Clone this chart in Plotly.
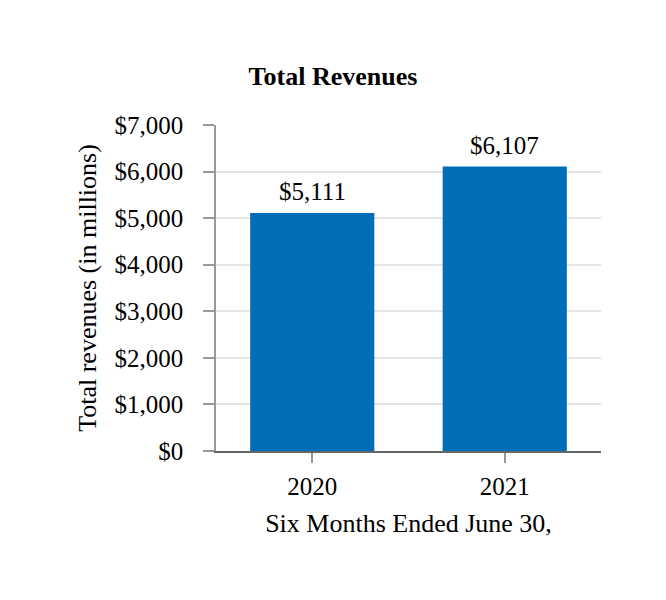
import plotly.graph_objects as go

years = ["2020", "2021"]
revenues = [5111, 6107]
bar_labels = ["$5,111", "$6,107"]
y_ticks = [0, 1000, 2000, 3000, 4000, 5000, 6000, 7000]
y_tick_text = ["$0", "$1,000", "$2,000", "$3,000", "$4,000", "$5,000", "$6,000", "$7,000"]

serif = "Liberation Serif, Times New Roman, serif"

fig = go.Figure(go.Bar(
    x=years,
    y=revenues,
    marker=dict(color="#006EB6", line=dict(width=0)),
    width=0.645,
    hoverinfo="x+y",
))

# value labels above the bars (category index, since "2020" reads as a number)
for i, (val, lab) in enumerate(zip(revenues, bar_labels)):
    fig.add_annotation(x=i, y=val, text=lab, showarrow=False,
                       yanchor="middle", yshift=21,
                       font=dict(family=serif, size=25, color="black"))

fig.update_layout(
    width=666, height=600,
    margin=dict(l=208, r=73, t=117, b=157),
    paper_bgcolor="white", plot_bgcolor="white",
    font=dict(family=serif, color="black"),
    showlegend=False,
    title=dict(text="<b>Total Revenues</b>", x=(333 - 8) / 666, xanchor="center",
               y=1 - 68 / 600, yanchor="middle",
               font=dict(family=serif, size=26, color="black")),
    xaxis=dict(
        type="category",
        showline=True, linecolor="#666666", linewidth=2,
        ticks="outside", ticklen=10, tickcolor="#999999", tickwidth=1.5,
        tickfont=dict(family=serif, size=25),
        ticklabelstandoff=2,
        title=dict(text="Six Months Ended June 30,", font=dict(family=serif, size=26), standoff=15),
    ),
    yaxis=dict(
        range=[0, 7000],
        tickvals=y_ticks, ticktext=y_tick_text,
        showline=True, linecolor="#999999", linewidth=1.5,
        ticks="outside", ticklen=11, tickcolor="#999999", tickwidth=1.5,
        ticklabelstandoff=15,
        showgrid=True, gridcolor="#e6e6e6", gridwidth=1.5,
        zeroline=False,
        tickfont=dict(family=serif, size=25),
        title=dict(text="Total revenues (in millions)", font=dict(family=serif, size=26), standoff=10),
    ),
)

fig.write_html("out.html")
